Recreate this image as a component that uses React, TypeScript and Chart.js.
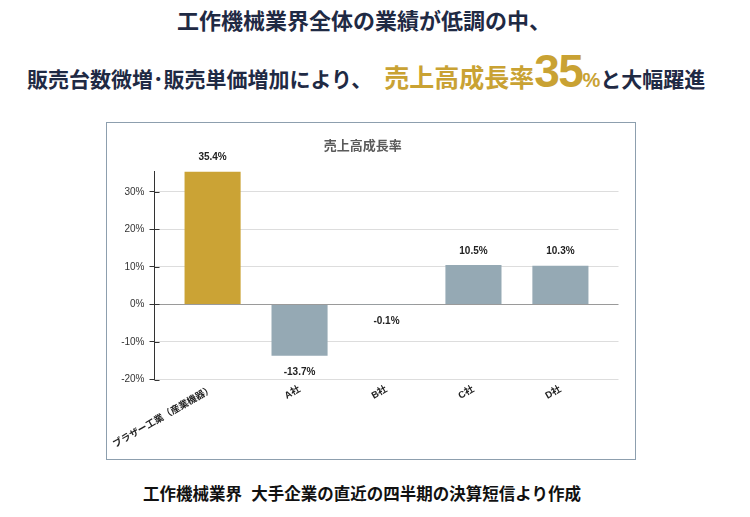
import { useEffect, useRef } from "react";
import { Chart, registerables, type Plugin } from "chart.js";

Chart.register(...registerables);

const FONT = "'Liberation Sans', 'Noto Sans CJK JP', sans-serif";
Chart.defaults.font.family = FONT;

const categories = ["ブラザー工業（産業機器）", "A社", "B社", "C社", "D社"];
const growth = [35.4, -13.7, -0.1, 10.5, 10.3];
const barColors = ["#CBA335", "#95A9B4", "#95A9B4", "#95A9B4", "#95A9B4"];
const yTicks = [-20, -10, 0, 10, 20, 30];

const NAVY = "#1F2A44";
const GOLD = "#C9A233";

// value labels over/under the bars + the short inner tick marks on the y axis
const valueLabels: Plugin<"bar"> = {
  id: "valueLabels",
  afterDatasetsDraw(chart) {
    const { ctx } = chart;
    const meta = chart.getDatasetMeta(0);
    ctx.save();
    ctx.font = `bold 10px ${FONT}`;
    ctx.fillStyle = "#222";
    ctx.textAlign = "center";
    ctx.textBaseline = "middle";
    meta.data.forEach((bar, i) => {
      const v = growth[i];
      const { x, y } = bar.getProps(["x", "y"], true) as { x: number; y: number };
      ctx.fillText(v.toFixed(1) + "%", x, v >= 0 ? y - 14 : y + 16);
    });

    const ys = chart.scales.y;
    ctx.strokeStyle = "#333";
    ctx.lineWidth = 1;
    ys.ticks.forEach((t) => {
      const py = Math.round(ys.getPixelForValue(t.value)) + 0.5;
      ctx.beginPath();
      ctx.moveTo(ys.right, py);
      ctx.lineTo(ys.right + 5, py);
      ctx.stroke();
    });
    ctx.restore();
  },
};

function GrowthChart() {
  const canvasRef = useRef<HTMLCanvasElement>(null);
  const chartRef = useRef<Chart | null>(null);

  useEffect(() => {
    const ctx = canvasRef.current?.getContext("2d");
    if (!ctx) return;
    chartRef.current?.destroy();

    chartRef.current = new Chart(ctx, {
      type: "bar",
      data: {
        datasets: [
          {
            data: growth.map((v, i) => ({ x: i, y: v })),
            backgroundColor: barColors,
            borderWidth: 0,
            categoryPercentage: 1,
            barPercentage: 0.645,
          },
        ],
      },
      plugins: [valueLabels],
      options: {
        responsive: true,
        maintainAspectRatio: false,
        animation: false,
        layout: { padding: { top: 0, right: 16.5, bottom: 0, left: 0 } },
        plugins: {
          legend: { display: false },
          tooltip: { enabled: false },
          title: {
            display: true,
            text: "売上高成長率",
            color: "#5A5A5A",
            font: { size: 13, weight: "bold" },
            padding: { top: 15.7, bottom: 17.2 },
          },
        },
        scales: {
          x: {
            type: "linear",
            offset: false,
            min: -0.668,
            max: categories.length - 1 + 0.668,
            afterBuildTicks: (axis) => {
              axis.ticks = categories.map((_, i) => ({ value: i }));
            },
            afterFit: (axis) => {
              axis.height = 79.5;
              axis.paddingLeft = 0;
              axis.paddingRight = 0;
            },
            grid: { display: false, drawTicks: false },
            border: { display: false },
            ticks: {
              autoSkip: false,
              minRotation: 30,
              maxRotation: 30,
              padding: 4,
              color: "#222",
              font: { size: 9.5, weight: "bold" },
              callback: (v) => categories[v as number] ?? "",
            },
          },
          y: {
            min: -20,
            max: 35.4,
            afterBuildTicks: (axis) => {
              axis.ticks = yTicks.map((v) => ({ value: v }));
            },
            afterFit: (axis) => {
              axis.width = 47.5;
            },
            grid: {
              color: (c) => (c.tick && c.tick.value === 0 ? "#9A9A9A" : "#DDDDDD"),
              tickColor: "#333",
              tickLength: 5,
              lineWidth: 1,
            },
            border: { color: "#333" },
            ticks: {
              color: "#333",
              font: { size: 10 },
              padding: 5,
              callback: (v) => v + "%",
            },
          },
        },
      },
    });
    return () => chartRef.current?.destroy();
  }, []);

  return <canvas ref={canvasRef} />;
}

export default function App() {
  return (
    <div
      style={{
        position: "fixed",
        left: 0,
        top: 0,
        width: 750,
        height: 517,
        background: "#fff",
        fontFamily: FONT,
        fontWeight: "bold",
      }}
    >
      <div
        style={{
          position: "absolute",
          left: 0,
          top: 9,
          width: 728,
          textAlign: "center",
          fontSize: 22,
          lineHeight: "26px",
          color: NAVY,
        }}
      >
        工作機械業界全体の業績が低調の中、
      </div>
      <div
        style={{
          position: "absolute",
          left: 27,
          top: 48,
          display: "flex",
          alignItems: "baseline",
          color: NAVY,
          whiteSpace: "nowrap",
          lineHeight: 1,
        }}
      >
        <span style={{ fontSize: 21 }}>販売台数微増･販売単価増加により、</span>
        <span style={{ fontSize: 25, color: GOLD, marginLeft: 12 }}>売上高成長率</span>
        <span style={{ fontSize: 46, color: GOLD, letterSpacing: -1.5 }}>35</span>
        <span style={{ fontSize: 20, color: GOLD }}>%</span>
        <span style={{ fontSize: 21 }}>と大幅躍進</span>
      </div>

      <div
        style={{
          position: "absolute",
          left: 106,
          top: 122,
          width: 530,
          height: 338,
          boxSizing: "border-box",
          border: "1.5px solid #8D9FAE",
          fontWeight: "normal",
        }}
      >
        <div style={{ position: "relative", width: "100%", height: "100%" }}>
          <GrowthChart />
        </div>
      </div>

      <div
        style={{
          position: "absolute",
          left: 0,
          top: 484,
          width: 724,
          textAlign: "center",
          fontSize: 16.5,
          lineHeight: "20px",
          color: "#111",
        }}
      >
        工作機械業界&nbsp;&nbsp;大手企業の直近の四半期の決算短信より作成
      </div>
    </div>
  );
}
